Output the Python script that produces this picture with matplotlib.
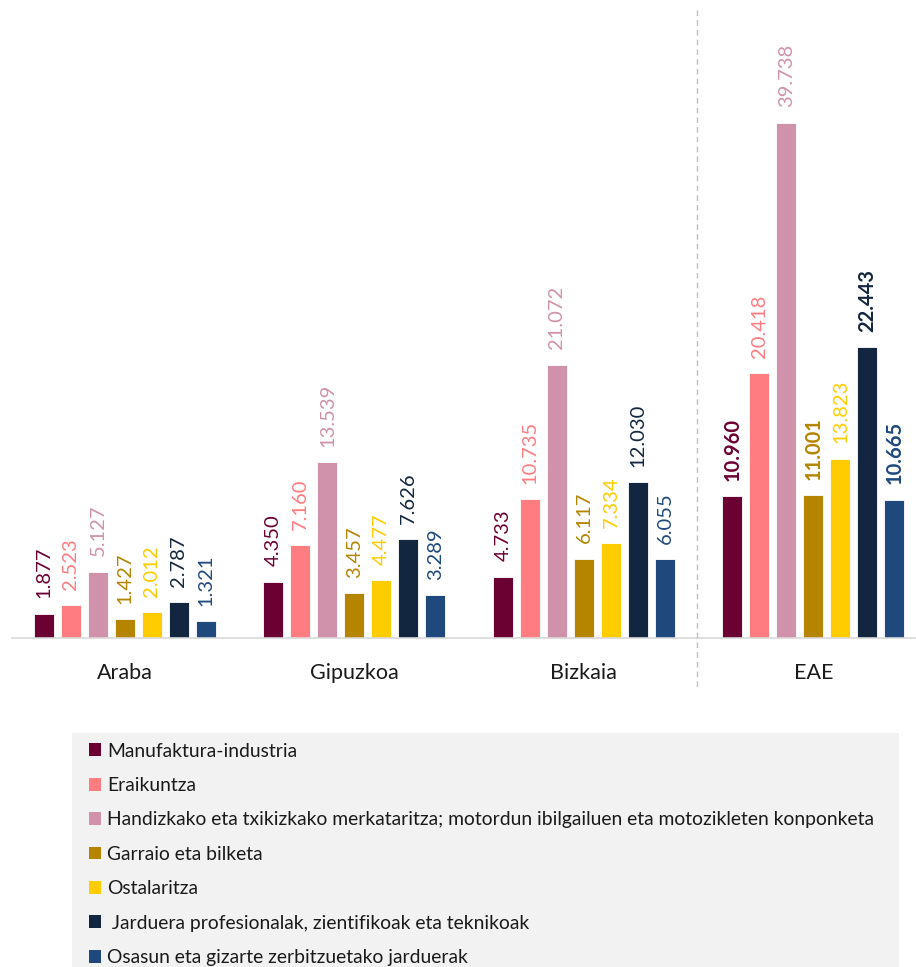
import numpy as np
import matplotlib
matplotlib.use('Agg')
import matplotlib.pyplot as plt
from matplotlib.patches import Rectangle, Patch
from matplotlib.lines import Line2D

plt.rcParams['font.family'] = ['Lato', 'DejaVu Sans']

# data
regions = ['Araba', 'Gipuzkoa', 'Bizkaia', 'EAE']
sectors = ['Manufaktura-industria',
           'Eraikuntza',
           'Handizkako eta txikizkako merkataritza; motordun ibilgailuen eta motozikleten konponketa',
           'Garraio eta bilketa',
           'Ostalaritza',
           ' Jarduera profesionalak, zientifikoak eta teknikoak',
           'Osasun eta gizarte zerbitzuetako jarduerak']
values = [
    [1.877, 4.350, 4.733, 10.960],
    [2.523, 7.160, 10.735, 20.418],
    [5.127, 13.539, 21.072, 39.738],
    [1.427, 3.457, 6.117, 11.001],
    [2.012, 4.477, 7.334, 13.823],
    [2.787, 7.626, 12.030, 22.443],
    [1.321, 3.289, 6.055, 10.665],
]
colors = ['#6B0033', '#FF7C80', '#D092AB', '#B58500', '#FFCC00', '#12263F', '#1F497D']
dark = [True, False, False, True, False, True, True]  # bold labels in EAE group

W, H = 916, 967
fig = plt.figure(figsize=(W / 100, H / 100), dpi=100)
ax = fig.add_axes([12 / W, (H - 638) / H, (W - 12) / W, 638 / H])

x = np.arange(len(regions))
pitch = 0.1176
bw = 0.087
for j, (sec, vals, col) in enumerate(zip(sectors, values, colors)):
    xs = x + (j - 3) * pitch
    ax.bar(xs, vals, width=bw, color=col, edgecolor='white', linewidth=0.6)
    for i, (xi, v) in enumerate(zip(xs, vals)):
        bold = (i == 3 and dark[j])
        ax.annotate(f'{v:.3f}', (xi, v), xytext=(0, 11), textcoords='offset points',
                    rotation=90, ha='center', va='bottom', color=col,
                    fontsize=14.5, fontweight='bold' if bold else 'normal')

ax.set_xlim(-0.492, 3.447)
ax.set_ylim(0, 49.2)
for s in ['top', 'right', 'left']:
    ax.spines[s].set_visible(False)
ax.spines['bottom'].set_color('#D9D9D9')
ax.spines['bottom'].set_linewidth(1.2)
ax.set_yticks([])
ax.set_xticks(x)
ax.set_xticklabels(regions, fontsize=15.5, color='#1a1a1a')
ax.tick_params(axis='x', length=0, pad=18)

# dashed separator before EAE
fig.add_artist(Line2D([697 / W, 697 / W], [1 - 10 / H, 1 - 690 / H],
                      color='#BFBFBF', linestyle=(0, (4, 3)), linewidth=1))

# legend box
fig.add_artist(Rectangle((72 / W, 0), (899 - 72) / W, (H - 733) / H,
                         transform=fig.transFigure, facecolor='#F2F2F2',
                         edgecolor='none', zorder=0))
handles = [Patch(facecolor=c, edgecolor='none') for c in colors]
leg = fig.legend(handles, sectors, loc='upper left',
                 bbox_to_anchor=(79 / W, 1 - 733 / H), frameon=False,
                 fontsize=13.9, handlelength=0.65, handleheight=0.65,
                 handletextpad=0.3, labelspacing=0.9, borderpad=0)
for t in leg.get_texts():
    t.set_color('#1a1a1a')

fig.savefig('out.png', dpi=100)
